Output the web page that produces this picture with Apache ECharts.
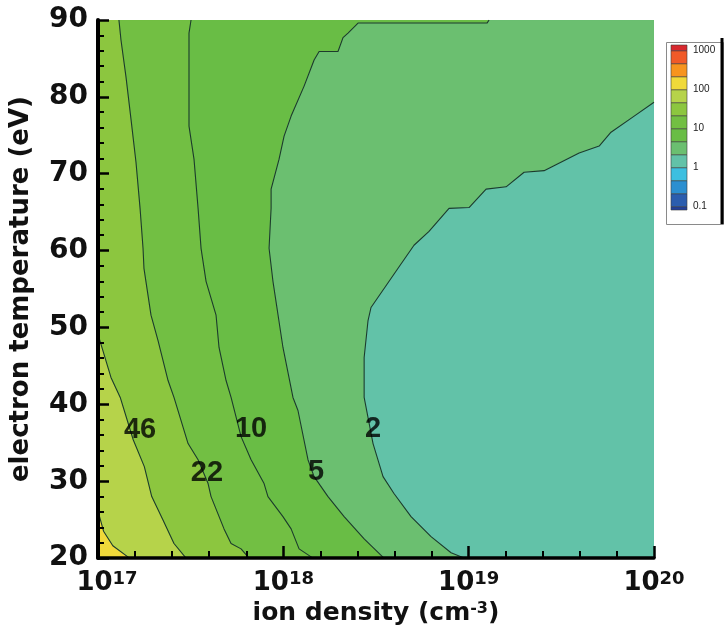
<!DOCTYPE html>
<html>
<head>
<meta charset="utf-8">
<script src="https://cdn.jsdelivr.net/npm/echarts@6/dist/echarts.min.js"></script>
<style>
  html, body { margin: 0; padding: 0; background: #fff; }
  #chart { width: 726px; height: 631px; }
</style>
</head>
<body>
<div id="chart"></div>
<script>
// x = log10(ion density / cm^-3), y = electron temperature (eV)
const densityExpTicks = [17, 18, 19, 20];
const densityRange = [17, 20];
const tempRange = [20, 90];

// contour lines, [log10 n, Te]
const contour100 = [[17.0, 26.1], [17.03, 23.5], [17.08, 21.6], [17.17, 20]];
const contour46 = [[17.0, 49.1], [17.07, 43.5], [17.12, 40.9], [17.19, 35.4], [17.25, 31.9],
  [17.29, 28.0], [17.35, 25.0], [17.41, 21.9], [17.475, 20]];
const contour22 = [[17.113, 90], [17.124, 87.4], [17.151, 82.6], [17.178, 77.1], [17.205, 71.5],
  [17.227, 65.5], [17.243, 60.3], [17.248, 57.7], [17.286, 51.6], [17.324, 48.3], [17.378, 43.1],
  [17.41, 40.9], [17.486, 34.9], [17.54, 32.8], [17.594, 29.7], [17.61, 28.0], [17.68, 23.8],
  [17.718, 21.9], [17.772, 21.2], [17.815, 20]];
const contour10 = [[17.502, 90], [17.491, 88.3], [17.491, 82.6], [17.491, 76.2], [17.518, 71.9],
  [17.54, 65.5], [17.556, 60.3], [17.583, 56.0], [17.637, 51.6], [17.653, 47.4], [17.691, 43.1],
  [17.718, 40.9], [17.772, 35.8], [17.826, 32.8], [17.896, 29.7], [17.917, 28.0], [17.998, 25.4],
  [18.042, 23.8], [18.085, 21.2], [18.16, 20]];
const contour5 = [[19.11, 90], [19.099, 89.6], [18.403, 89.6], [18.349, 88.3], [18.322, 87.7],
  [18.295, 85.9], [18.193, 85.9], [18.166, 84.8], [18.112, 81.4], [18.042, 77.5], [18.004, 74.9],
  [17.977, 71.9], [17.934, 68.0], [17.934, 65.5], [17.923, 60.3], [17.944, 56.0], [17.998, 47.4],
  [18.052, 40.9], [18.079, 39.2], [18.133, 32.8], [18.166, 30.6], [18.241, 28.0], [18.328, 25.4],
  [18.436, 22.5], [18.543, 20]];
const contour2 = [[20, 79.3], [19.893, 77.5], [19.768, 75.4], [19.704, 73.6], [19.596, 72.7],
  [19.407, 70.4], [19.299, 70.2], [19.202, 68.3], [19.094, 68.0], [19.002, 65.6], [18.894, 65.5],
  [18.786, 62.5], [18.705, 60.7], [18.619, 57.7], [18.473, 52.6], [18.457, 50.9], [18.436, 46.1],
  [18.436, 40.9], [18.484, 34.9], [18.538, 30.6], [18.597, 28.4], [18.689, 25.4], [18.797, 22.8],
  [18.905, 20.7], [18.975, 20]];

const contourLabels = [[17.227, 36.7, '46'], [17.588, 31.1, '22'], [17.826, 36.8, '10'],
  [18.176, 31.2, '5'], [18.484, 36.8, '2']];

// colour scale, log10 of the value, 3 levels per decade
const legendEdges = [-1.085, -1, -0.667, -0.333, 0, 0.333, 0.667, 1, 1.333, 1.667, 2, 2.333, 2.667, 3, 3.146];
const legendTickValues = [-1, 0, 1, 2, 3];
const legendTickLabels = ['0.1', '1', '10', '100', '1000'];

const palette = ['#22409a', '#2b5dae', '#2b8fd0', '#3cbfe0', '#62c2a8', '#6bbf70', '#69bd45',
  '#72bf43', '#8cc63f', '#b6d34a', '#f0d93a', '#f7941e', '#f05a28', '#d7282e'];

const [x0, x1] = densityRange;
const [y0, y1] = tempRange;
// filled bands, painted from the highest value down
const regions = [
  { pts: [[x0, y0], [x1, y0], [x1, y1], [x0, y1]], band: 10 },
  { pts: contour100.concat([[x1, y0], [x1, y1], [x0, y1]]), band: 9 },
  { pts: contour46.concat([[x1, y0], [x1, y1], [x0, y1]]), band: 8 },
  { pts: contour22.concat([[x1, y0], [x1, y1]]), band: 7 },
  { pts: contour10.concat([[x1, y0], [x1, y1]]), band: 6 },
  { pts: contour5.concat([[x1, y0], [x1, y1]]), band: 5 },
  { pts: contour2.concat([[x1, y0]]), band: 4 }
];

const chart = echarts.init(document.getElementById('chart'));

const boldWide = { fontFamily: 'DejaVu Sans', fontWeight: 'bold', color: '#111' };

function contourLine(data) {
  return {
    type: 'line', data: data, symbol: 'none', silent: true, z: 5,
    lineStyle: { color: '#1c3b2c', width: 1.1 }
  };
}

chart.setOption({
  animation: false,
  backgroundColor: '#fff',
  grid: [
    { left: 96, right: 72, top: 20, bottom: 69 },
    { left: 671, top: 45, width: 16, height: 165 }
  ],
  xAxis: [{
    type: 'value', min: x0, max: x1, interval: 1, z: 10,
    name: 'ion density (cm{s|-3})', nameLocation: 'middle', nameGap: 41,
    nameTextStyle: Object.assign({ fontSize: 25, rich: {
      s: Object.assign({ fontSize: 16, lineHeight: 17, verticalAlign: 'top' }, boldWide)
    } }, boldWide),
    axisLine: { lineStyle: { color: '#000', width: 3.5 } },
    axisTick: { inside: true, length: 12, lineStyle: { color: '#000', width: 2.5 } },
    minorTick: { show: true, splitNumber: 5, length: 7, lineStyle: { color: '#000', width: 2 } },
    splitLine: { show: false },
    axisLabel: {
      margin: 12,
      formatter: v => (v === 17 ? '{f|10}{s|' : '{b|10}{s|') + v + '}',
      rich: {
        b: Object.assign({ fontSize: 26, lineHeight: 26 }, boldWide),
        f: Object.assign({ fontSize: 26, lineHeight: 26, padding: [0, 0, 0, 18] }, boldWide),
        s: Object.assign({ fontSize: 18, lineHeight: 20, verticalAlign: 'top' }, boldWide)
      }
    }
  }, {
    gridIndex: 1, type: 'value', min: 0, max: 1, show: false
  }],
  yAxis: [{
    type: 'value', min: y0, max: y1, interval: 10, z: 10,
    name: 'electron temperature (eV)', nameLocation: 'middle', nameGap: 64,
    nameTextStyle: Object.assign({ fontSize: 26 }, boldWide),
    axisLine: { lineStyle: { color: '#000', width: 4 } },
    axisTick: { inside: true, length: 11, lineStyle: { color: '#000', width: 2.5 } },
    minorTick: { show: true, splitNumber: 5, length: 6, lineStyle: { color: '#000', width: 2 } },
    splitLine: { show: false },
    axisLabel: Object.assign({ margin: 10, fontSize: 28 }, boldWide)
  }, {
    gridIndex: 1, type: 'value', min: legendEdges[0], max: legendEdges[legendEdges.length - 1],
    position: 'right',
    axisLine: { show: false }, axisTick: { show: false }, splitLine: { show: false },
    axisLabel: {
      margin: 6, fontSize: 10, fontFamily: 'Liberation Sans Narrow, Liberation Sans', color: '#222',
      customValues: legendTickValues,
      formatter: v => legendTickLabels[legendTickValues.indexOf(Math.round(v))]
    }
  }],
  graphic: [
    { type: 'rect', left: 664, top: 40, shape: { width: 57, height: 182 },
      style: { fill: 'none', stroke: '#8a8a8a', lineWidth: 1 }, z: 10 },
    { type: 'line', shape: { x1: 722, y1: 38, x2: 722, y2: 224 },
      style: { stroke: '#000', lineWidth: 3 }, z: 10 }
  ],
  series: [
    {
      type: 'custom', silent: true, z: 1, clip: true,
      data: regions.map((r, i) => [r.pts[0][0], r.pts[0][1], i]),
      encode: { x: 0, y: 1 },
      renderItem: function (params, api) {
        const r = regions[api.value(2)];
        return {
          type: 'polygon',
          shape: { points: r.pts.map(p => api.coord(p)) },
          style: { fill: palette[r.band], stroke: palette[r.band], lineWidth: 0.5 }
        };
      }
    },
    contourLine(contour100),
    contourLine(contour46),
    contourLine(contour22),
    contourLine(contour10),
    contourLine(contour5),
    contourLine(contour2),
    {
      type: 'scatter', data: contourLabels, symbolSize: 1, z: 8, silent: true,
      itemStyle: { color: 'transparent' },
      label: {
        show: true, position: 'inside', formatter: p => p.value[2],
        fontFamily: 'Liberation Sans', fontWeight: 'bold', fontSize: 29, color: '#000'
      }
    },
    {
      type: 'custom', xAxisIndex: 1, yAxisIndex: 1, silent: true,
      data: palette.map((c, i) => [0, legendEdges[i], i]),
      encode: { x: 0, y: 1 },
      renderItem: function (params, api) {
        const i = api.value(2);
        const a = api.coord([0, legendEdges[i]]);
        const b = api.coord([1, legendEdges[i + 1]]);
        return {
          type: 'rect',
          shape: { x: a[0], y: b[1], width: b[0] - a[0], height: a[1] - b[1] },
          style: { fill: palette[i], stroke: '#3a3a3a', lineWidth: 0.6 }
        };
      }
    }
  ]
});
</script>
</body>
</html>
